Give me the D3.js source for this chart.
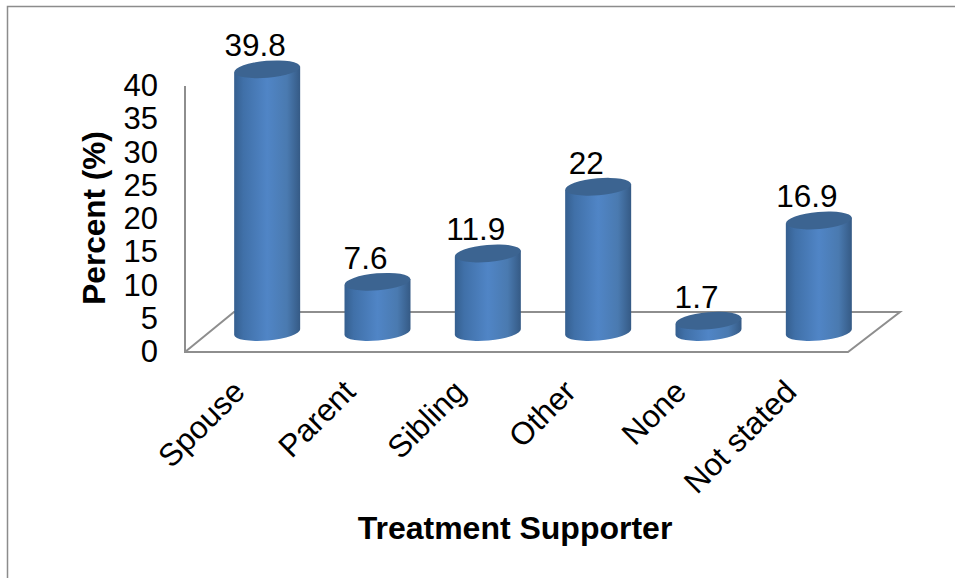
<!DOCTYPE html>
<html>
<head>
<meta charset="utf-8">
<script src="https://cdn.jsdelivr.net/npm/d3@7"></script>
<style>
html, body { margin: 0; padding: 0; background: #fff; }
svg { display: block; font-family: "Liberation Sans", Arial, sans-serif; }
</style>
</head>
<body>
<script>
// Treatment supporter shares, drawn as 3D-style cylinders on a floor plane.
const categories = ["Spouse", "Parent", "Sibling", "Other", "None", "Not stated"];
const percentValues = [39.8, 7.6, 11.9, 22, 1.7, 16.9];
const valueLabels = ["39.8", "7.6", "11.9", "22", "1.7", "16.9"];
const percentTicks = [0, 5, 10, 15, 20, 25, 30, 35, 40];

const width = 955, height = 578;
const svg = d3.select("body").append("svg").attr("width", width).attr("height", height);

const x = d3.scaleBand().domain(categories).range([212, 874]);
const y = d3.scaleLinear().domain([0, 40]).range([332, 68]);
const tickY = d3.scaleLinear().domain([0, 40]).range([352, 86]);

const rx = 33, ry = 8.5, tilt = -5;
const dy = rx * Math.sin(tilt * Math.PI / 180);

const defs = svg.append("defs");
const side = defs.append("linearGradient").attr("id", "cylinderSide");
[[0, "#355f8f"], [0.14, "#4070a8"], [0.5, "#5085c6"], [0.8, "#4a7ab0"], [1, "#355a85"]]
  .forEach(([o, c]) => side.append("stop").attr("offset", o).attr("stop-color", c));

// Chart frame: open along the right and bottom edges.
svg.append("path").attr("d", "M7.5,578V6.5H955").attr("fill", "none").attr("stroke", "#8c8c8c").attr("stroke-width", 1.5);

// Floor plane and value axis.
const axisColor = "#8e8e8e";
svg.append("path")
  .attr("d", `M185,${tickY(40)}V${tickY(0)}H848L900,312H234L185,${tickY(0)}`)
  .attr("fill", "none").attr("stroke", axisColor).attr("stroke-width", 2);

// Tick labels along the value axis.
svg.append("g").selectAll("text").data(percentTicks).join("text")
  .attr("x", 158).attr("y", d => tickY(d) + 10)
  .attr("text-anchor", "end").attr("font-size", 31).attr("fill", "#000")
  .text(d => d);

// Cylinders.
const bars = svg.append("g").selectAll("g").data(categories).join("g")
  .attr("transform", d => `translate(${x(d) + x.bandwidth() / 2},0)`);

bars.append("path")
  .attr("fill", "url(#cylinderSide)")
  .attr("d", (d, i) => {
    const top = y(percentValues[i]), base = y(0);
    return `M${-rx},${top - dy}L${rx},${top + dy}L${rx},${base + dy}` +
      `A${rx},${ry} ${tilt} 0 1 ${-rx},${base - dy}Z`;
  });

bars.append("ellipse")
  .attr("rx", rx).attr("ry", ry).attr("fill", "#3c6491")
  .attr("transform", (d, i) => `translate(0,${y(percentValues[i])}) rotate(${tilt})`);

// Value labels above each cylinder, set slightly left of centre.
bars.append("text")
  .attr("x", -12)
  .attr("text-anchor", "middle").attr("font-size", 31.5).attr("fill", "#000")
  .attr("y", (d, i) => y(percentValues[i]) - 13)
  .text((d, i) => valueLabels[i]);

// Category labels, rotated and ending beneath each cylinder.
bars.append("text")
  .attr("text-anchor", "end").attr("font-size", 31.5).attr("fill", "#000")
  .attr("transform", "translate(-36,378) rotate(-45)")
  .attr("dy", "0.7em")
  .text(d => d);

// Axis titles.
svg.append("text")
  .attr("transform", "translate(105,218) rotate(-90)")
  .attr("text-anchor", "middle").attr("font-size", 31.5).attr("font-weight", "bold")
  .text("Percent (%)");

svg.append("text")
  .attr("x", 515).attr("y", 539)
  .attr("text-anchor", "middle").attr("font-size", 32).attr("font-weight", "bold")
  .text("Treatment Supporter");
</script>
</body>
</html>
